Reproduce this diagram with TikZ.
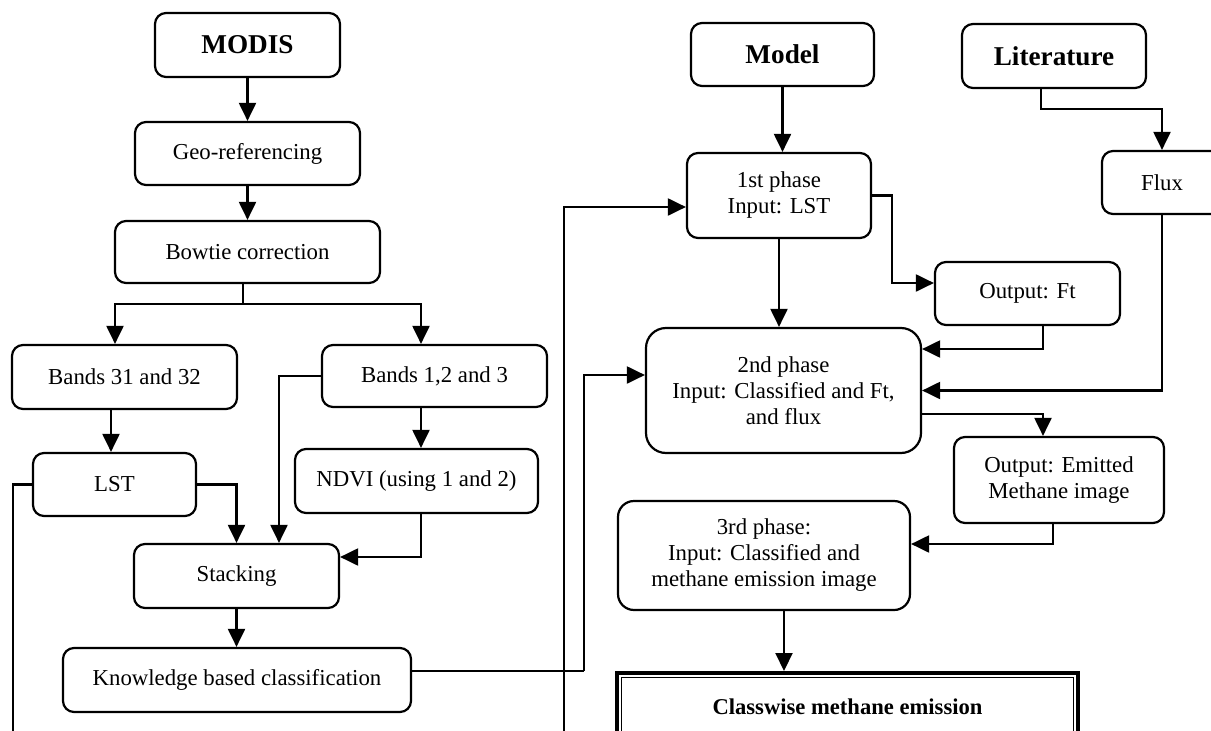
\documentclass[tikz,border=0pt]{standalone}
\usepackage{fontspec}
\setmainfont{Liberation Serif}
\usetikzlibrary{arrows.meta}
\newcommand\fsn{\fontsize{22.8}{26}\selectfont}
\newcommand\fsb{\fontsize{27.2}{30}\selectfont\bfseries}
\begin{document}
\begin{tikzpicture}[x=1pt,y=-1pt,
  box/.style={draw, line width=2.2pt, rounded corners=11pt, align=center,
    inner sep=0pt, font=\fsn},
  bbox/.style={box, font=\fsb},
  arr/.style={line width=2.1pt, -{Triangle[length=18pt,width=17pt]}},
  ln/.style={line width=2.1pt}]
\clip (0,0) rectangle (1211,731);
\fill[white] (0,0) rectangle (1211,731);
% left column
\node[bbox, minimum width=185pt, minimum height=64pt] (modis) at (247.5,45) {MODIS};
\node[box, minimum width=225pt, minimum height=63pt] (geo) at (247.5,153.5) {Geo-referencing};
\node[box, minimum width=265pt, minimum height=62pt] (bow) at (247.5,252) {Bowtie correction};
\node[box, minimum width=225pt, minimum height=64pt] (b3132) at (124.5,377) {Bands 31 and 32};
\node[box, minimum width=225pt, minimum height=62pt] (b123) at (434.5,376) {Bands 1,2 and 3};
\node[box, minimum width=163pt, minimum height=63pt] (lst) at (114.5,484.5) {LST};
\node[box, minimum width=243pt, minimum height=64pt] (ndvi) at (416.5,481) {NDVI (using 1 and 2)};
\node[box, minimum width=205pt, minimum height=64pt] (stack) at (236.5,576) {Stacking};
\node[box, minimum width=348pt, minimum height=64pt] (know) at (237,680) {Knowledge based classification};
% right part
\node[bbox, minimum width=183pt, minimum height=63pt] (model) at (782.5,54.5) {Model};
\node[bbox, minimum width=184pt, minimum height=64pt] (lit) at (1054,56) {Literature};
\node[box, minimum width=184pt, minimum height=85pt] (p1) at (779,195.5) {1st phase\\Input: LST};
\node[box, minimum width=185pt, minimum height=63pt] (ft) at (1027.5,293.5) {Output: Ft};
\node[box, minimum width=120pt, minimum height=63pt] (flux) at (1162,182.5) {Flux};
\node[box, rounded corners=20pt, minimum width=275pt, minimum height=125pt] (p2) at (783.5,390.5) {2nd phase\\Input: Classified and Ft,\\and flux};
\node[box, minimum width=210pt, minimum height=86pt] (emit) at (1059,480) {Output: Emitted\\Methane image};
\node[box, rounded corners=16pt, minimum width=292pt, minimum height=109pt] (p3) at (764,555.5) {3rd phase:\\Input: Classified and\\methane emission image};
\node[draw, line width=4pt, inner sep=0pt, minimum width=461pt, minimum height=68pt,
  font=\fontsize{22.6}{26}\selectfont\bfseries] (cls) at (847.5,707) {Classwise methane emission};
\draw[line width=1.5pt] ([shift={(6.5,6.5)}]cls.north west) rectangle ([shift={(-6.5,-6.5)}]cls.south east);
% helper coordinates
\coordinate (j1) at (243,304);
\coordinate (bl) at (13,745);
\coordinate (b2) at (564,745);
\coordinate (k1) at (584,671);
% connectors left
\draw[arr] (modis.south) -- (geo.north);
\draw[arr] (geo.south) -- (bow.north);
\draw[ln] (bow.south -| j1) -- (j1);
\draw[arr] (j1) -| ([xshift=-9.5pt]b3132.north);
\draw[arr] (j1) -| ([xshift=-13.5pt]b123.north);
\draw[arr] ([xshift=-3.5pt]lst.north |- b3132.south) -- ([xshift=-3.5pt]lst.north);
\draw[ln] (lst.west) -| (bl);
\draw[arr] (lst.east) -| (stack.north);
\draw[arr] (b123.west) -| ([xshift=42.5pt]stack.north);
\draw[arr] ([xshift=4.5pt]ndvi.north |- b123.south) -- ([xshift=4.5pt]ndvi.north);
\draw[arr] ([xshift=4.5pt]ndvi.south) |- ([yshift=19pt]stack.east);
\draw[arr] (stack.south) -- (stack.south |- know.north);
\draw[ln] ([yshift=9pt]know.east) -- (k1);
\draw[arr] (k1) |- ([yshift=15.5pt]p2.west);
\draw[arr] (b2) |- ([yshift=-11.5pt]p1.west);
% connectors right
\draw[arr] (model.south) -- (model.south |- p1.north);
\draw[arr] (p1.east) -- ++(20,0) |- ([yshift=10.5pt]ft.west);
\draw[arr] (p1.south) -- (p1.south |- p2.north);
\draw[arr] ([xshift=15.5pt]ft.south) |- ([yshift=41.5pt]p2.east);
\draw[arr] ([xshift=-13pt]lit.south) -- ++(0,20) -| (flux.north);
\draw[arr] (flux.south) |- (p2.east);
\draw[arr] ([yshift=-23.5pt]p2.east) -| ([xshift=-16pt]emit.north);
\draw[arr] ([xshift=-6pt]emit.south) |- ([yshift=11.5pt]p3.east);
\draw[arr] ([xshift=20pt]p3.south) -- ([xshift=20pt]p3.south |- cls.north);
\end{tikzpicture}
\end{document}
